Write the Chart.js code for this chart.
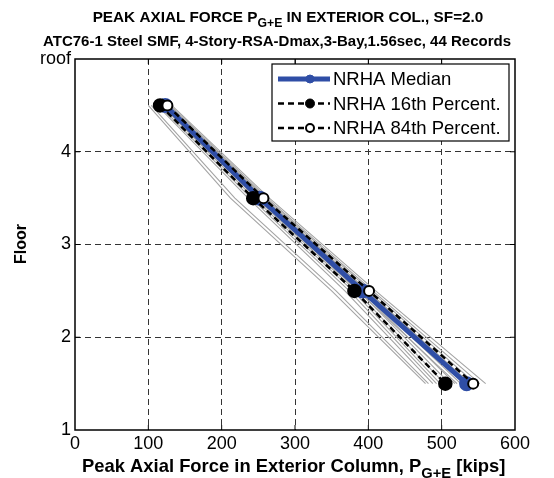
<!DOCTYPE html>
<html>
<head>
<meta charset="utf-8">
<script src="https://cdn.jsdelivr.net/npm/chart.js@4/dist/chart.umd.min.js"></script>
<style>
  html, body { margin: 0; padding: 0; background: #ffffff; }
  #wrap { width: 554px; height: 478px; }
</style>
</head>
<body>
<div id="wrap"><canvas id="axialChart" width="554" height="478"></canvas></div>
<script>
// floor levels where the column forces are reported (mid-story)
const levels = [4.5, 3.5, 2.5, 1.5];
const yTicks = [1, 2, 3, 4, 5];
const yTickLabels = ['1', '2', '3', '4', 'roof'];

// statistics over the record set [kips]
const median = [123, 252, 392, 534];
const pct16 = [116, 243, 381, 505];
const pct84 = [126, 257, 401, 543];

// individual ground-motion records [kips]
const rec01 = [100, 212, 350, 478];
const rec02 = [104, 218, 356, 482];
const rec03 = [112, 236, 368, 488];
const rec04 = [115, 240, 374, 493];
const rec05 = [118, 244, 379, 498];
const rec06 = [120, 247, 383, 504];
const rec07 = [122, 250, 387, 511];
const rec08 = [123, 252, 390, 518];
const rec09 = [124, 254, 393, 526];
const rec10 = [125, 256, 396, 533];
const rec11 = [127, 258, 399, 539];
const rec12 = [128, 260, 403, 546];
const rec13 = [130, 262, 406, 552];
const rec14 = [132, 265, 410, 560];
const rec15 = [121, 249, 386, 521];
const rec16 = [126, 257, 398, 537];
const records = [rec01, rec02, rec03, rec04, rec05, rec06, rec07, rec08,
  rec09, rec10, rec11, rec12, rec13, rec14, rec15, rec16];

const FONT = '"Liberation Sans", Arial, Helvetica, sans-serif';
const BLUE = '#2f4ea6';

function pts(xs) {
  return xs.map((x, i) => ({ x: x, y: levels[i] }));
}

const datasets = records.map(r => ({
  data: pts(r),
  borderColor: '#a4a4a4',
  borderWidth: 1.1,
  pointRadius: 0,
  fill: false,
  order: 10
}));

datasets.push({
  label: 'NRHA Median',
  data: pts(median),
  borderColor: BLUE,
  borderWidth: 5,
  pointRadius: 5,
  pointBackgroundColor: BLUE,
  pointBorderColor: BLUE,
  legendRadius: 4,
  order: 3
});
datasets.push({
  label: 'NRHA 16th Percent.',
  data: pts(pct16),
  borderColor: '#000000',
  borderWidth: 2.5,
  borderDash: [6, 4],
  pointRadius: 6,
  pointBackgroundColor: '#000000',
  pointBorderColor: '#000000',
  legendRadius: 4.5,
  order: 2
});
datasets.push({
  label: 'NRHA 84th Percent.',
  data: pts(pct84),
  borderColor: '#000000',
  borderWidth: 2.5,
  borderDash: [6, 4],
  pointRadius: 5,
  pointBorderWidth: 2,
  pointBackgroundColor: '#ffffff',
  pointBorderColor: '#000000',
  legendRadius: 4,
  order: 1
});

// bold text with subscript parts
function subText(ctx, parts, x, y, size, align) {
  let total = 0;
  parts.forEach(p => {
    ctx.font = 'bold ' + (p.sub ? size * 0.8 : size) + 'px ' + FONT;
    total += ctx.measureText(p.t).width;
  });
  let cx = align === 'center' ? x - total / 2 : x;
  parts.forEach(p => {
    ctx.font = 'bold ' + (p.sub ? size * 0.8 : size) + 'px ' + FONT;
    ctx.fillText(p.t, cx, p.sub ? y + size * 0.35 : y);
    cx += ctx.measureText(p.t).width;
  });
}

const decorations = {
  id: 'decorations',
  afterDraw(chart) {
    const ctx = chart.ctx;
    const a = chart.chartArea;
    const xs = chart.scales.x, ys = chart.scales.y;
    ctx.save();

    // box and inward ticks
    ctx.strokeStyle = '#000';
    ctx.lineWidth = 1.5;
    ctx.setLineDash([]);
    ctx.strokeRect(a.left, a.top, a.right - a.left, a.bottom - a.top);
    ctx.lineWidth = 1;
    ctx.beginPath();
    [100, 200, 300, 400, 500].forEach(v => {
      const px = xs.getPixelForValue(v);
      ctx.moveTo(px, a.top); ctx.lineTo(px, a.top + 5);
      ctx.moveTo(px, a.bottom); ctx.lineTo(px, a.bottom - 5);
    });
    [2, 3, 4].forEach(v => {
      const py = ys.getPixelForValue(v);
      ctx.moveTo(a.left, py); ctx.lineTo(a.left + 5, py);
      ctx.moveTo(a.right, py); ctx.lineTo(a.right - 5, py);
    });
    ctx.stroke();

    // titles
    ctx.fillStyle = '#000';
    ctx.textBaseline = 'alphabetic';
    subText(ctx, [{ t: 'PEAK AXIAL FORCE P' }, { t: 'G+E', sub: true }, { t: ' IN EXTERIOR COL., SF=2.0' }], 288, 22, 15.3, 'center');
    subText(ctx, [{ t: 'ATC76-1 Steel SMF, 4-Story-RSA-Dmax,3-Bay,1.56sec, 44 Records' }], 277, 46, 15, 'center');

    // axis labels
    subText(ctx, [{ t: 'Peak Axial Force in Exterior Column, P' }, { t: 'G+E', sub: true }, { t: ' [kips]' }], 82, 472, 18.4, 'left');
    ctx.save();
    ctx.translate(26, 244);
    ctx.rotate(-Math.PI / 2);
    subText(ctx, [{ t: 'Floor' }], 0, 0, 16, 'center');
    ctx.restore();

    // legend
    const lx = 272, ly = 64, lw = 237, lh = 77;
    ctx.fillStyle = '#fff';
    ctx.fillRect(lx, ly, lw, lh);
    ctx.strokeStyle = '#000';
    ctx.lineWidth = 1.2;
    ctx.strokeRect(lx, ly, lw, lh);
    const items = chart.data.datasets.filter(d => d.label);
    items.forEach((d, i) => {
      const ry = ly + 15 + i * 24.5;
      ctx.strokeStyle = d.borderColor;
      ctx.lineWidth = d.borderWidth;
      ctx.setLineDash(d.borderDash || []);
      ctx.beginPath();
      ctx.moveTo(lx + 6, ry); ctx.lineTo(lx + 58, ry);
      ctx.stroke();
      ctx.setLineDash([]);
      ctx.beginPath();
      ctx.arc(lx + 38, ry, d.legendRadius, 0, Math.PI * 2);
      ctx.fillStyle = d.pointBackgroundColor;
      ctx.fill();
      ctx.lineWidth = d.pointBorderWidth || 1;
      ctx.strokeStyle = d.pointBorderColor;
      ctx.stroke();
      ctx.fillStyle = '#000';
      ctx.font = '18.5px ' + FONT;
      ctx.textBaseline = 'middle';
      ctx.fillText(d.label, lx + 61, ry + 1);
    });
    ctx.restore();
  }
};

function gridColor(edges) {
  return c => (edges.includes(c.tick.value) ? 'rgba(0,0,0,0)' : '#333');
}

new Chart(document.getElementById('axialChart'), {
  type: 'line',
  data: { datasets: datasets },
  options: {
    responsive: false,
    animation: false,
    layout: { padding: { left: 0, top: 59, right: 39, bottom: 0 } },
    plugins: { legend: { display: false }, tooltip: { enabled: false } },
    scales: {
      x: {
        type: 'linear',
        min: 0,
        max: 600,
        afterFit: s => { s.height = 48; },
        ticks: { stepSize: 100, color: '#000', padding: 3, font: { family: FONT, size: 18 } },
        grid: { color: gridColor([0, 600]), lineWidth: 1, drawTicks: false },
        border: { display: false, dash: [6, 4] }
      },
      y: {
        type: 'linear',
        min: 1,
        max: 5,
        afterFit: s => { s.width = 75; },
        afterBuildTicks: s => { s.ticks = yTicks.map(v => ({ value: v })); },
        ticks: {
          color: '#000',
          padding: 4,
          font: { family: FONT, size: 18 },
          callback: v => yTickLabels[yTicks.indexOf(v)]
        },
        grid: { color: gridColor([1, 5]), lineWidth: 1, drawTicks: false },
        border: { display: false, dash: [6, 4] }
      }
    }
  },
  plugins: [decorations]
});
</script>
</body>
</html>
